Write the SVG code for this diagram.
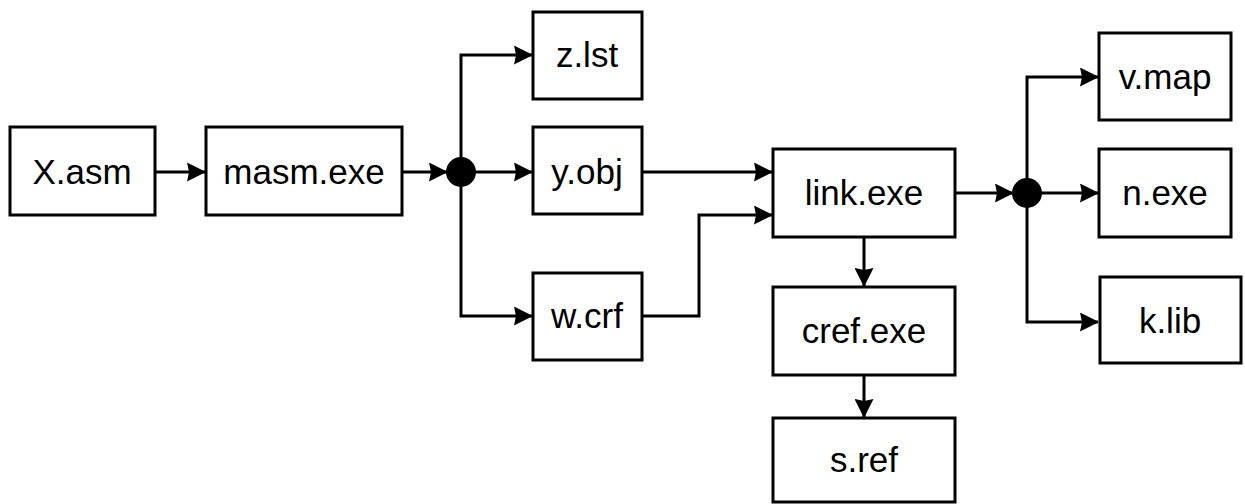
<svg xmlns="http://www.w3.org/2000/svg" width="1245" height="504" viewBox="0 0 1245 504">
<style>
.box{fill:#fff;stroke:#000;stroke-width:3}
.lbl{font-family:"Liberation Sans",Arial,sans-serif;font-size:35px;text-anchor:middle;fill:#000}
.c{fill:none;stroke:#000;stroke-width:3}
</style>
<defs>
<marker id="ah" viewBox="0 0 19 19" refX="18" refY="9.5" markerWidth="19" markerHeight="19" markerUnits="userSpaceOnUse" orient="auto">
<path d="M0,0 L19,9.5 L0,19 L2,9.5 z" fill="#000"/>
</marker>
</defs>
<rect width="1245" height="504" fill="#fff"/>
<g id="connectors">
<path class="c" d="M155,172 H205" marker-end="url(#ah)"/>
<path class="c" d="M402,172 H447" marker-end="url(#ah)"/>
<path class="c" d="M461,172 H532" marker-end="url(#ah)"/>
<path class="c" d="M461,172 V55 H532" marker-end="url(#ah)"/>
<path class="c" d="M461,172 V316 H532" marker-end="url(#ah)"/>
<path class="c" d="M642,172 H772" marker-end="url(#ah)"/>
<path class="c" d="M642,316 H699 V215 H772" marker-end="url(#ah)"/>
<path class="c" d="M864,237 V286" marker-end="url(#ah)"/>
<path class="c" d="M864,375 V417" marker-end="url(#ah)"/>
<path class="c" d="M955,193 H1013" marker-end="url(#ah)"/>
<path class="c" d="M1027,193 H1098" marker-end="url(#ah)"/>
<path class="c" d="M1027,193 V77 H1098" marker-end="url(#ah)"/>
<path class="c" d="M1027,193 V322 H1098" marker-end="url(#ah)"/>
<circle cx="461" cy="172" r="15" fill="#000"/>
<circle cx="1027" cy="193" r="15" fill="#000"/>
</g>
<g id="n-xasm"><rect class="box" x="10" y="127" width="145" height="88"/><text class="lbl" x="82" y="184">X.asm</text></g>
<g id="n-masm"><rect class="box" x="206" y="127" width="196" height="88"/><text class="lbl" x="304" y="184">masm.exe</text></g>
<g id="n-zlst"><rect class="box" x="533" y="12" width="109" height="87"/><text class="lbl" x="587" y="67">z.lst</text></g>
<g id="n-yobj"><rect class="box" x="533" y="127" width="109" height="87"/><text class="lbl" x="587" y="184">y.obj</text></g>
<g id="n-wcrf"><rect class="box" x="533" y="273" width="109" height="87"/><text class="lbl" x="587" y="328">w.crf</text></g>
<g id="n-link"><rect class="box" x="773" y="149" width="182" height="88"/><text class="lbl" x="864" y="205">link.exe</text></g>
<g id="n-cref"><rect class="box" x="773" y="287" width="182" height="88"/><text class="lbl" x="864" y="343">cref.exe</text></g>
<g id="n-sref"><rect class="box" x="773" y="418" width="182" height="84"/><text class="lbl" x="864" y="472">s.ref</text></g>
<g id="n-vmap"><rect class="box" x="1099" y="33" width="132" height="87"/><text class="lbl" x="1165" y="89">v.map</text></g>
<g id="n-nexe"><rect class="box" x="1099" y="149" width="132" height="88"/><text class="lbl" x="1165" y="205">n.exe</text></g>
<g id="n-klib"><rect class="box" x="1100" y="277" width="141" height="86"/><text class="lbl" x="1170" y="333">k.lib</text></g>
</svg>
